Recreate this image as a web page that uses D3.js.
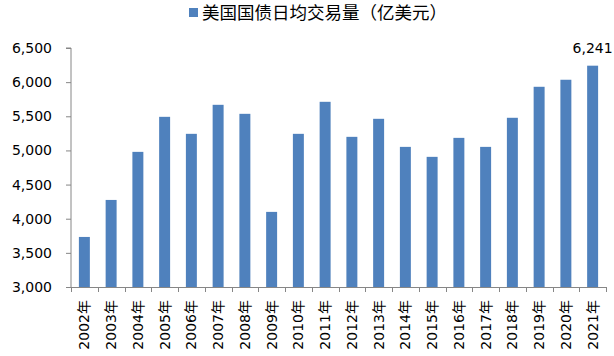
<!DOCTYPE html>
<html><head><meta charset="utf-8">
<script src="https://cdn.jsdelivr.net/npm/d3@7"></script>
<style>
html,body{margin:0;padding:0;background:#fff;}
text{font-family:"DejaVu Sans","Noto Sans CJK SC",sans-serif;fill:#000;}
</style></head>
<body>
<svg id="c" width="614" height="356"></svg>
<script>
const categories = ["2002年","2003年","2004年","2005年","2006年","2007年","2008年","2009年","2010年","2011年",
  "2012年","2013年","2014年","2015年","2016年","2017年","2018年","2019年","2020年","2021年"];
const values = [3733,4275,4979,5492,5243,5668,5536,4100,5243,5712,5199,5463,5052,4906,5184,5052,5478,5932,6035,6241];
const yTicks = [3000,3500,4000,4500,5000,5500,6000,6500];
const seriesName = "美国国债日均交易量（亿美元）";
const labelled = ["2021年"];

const svg = d3.select("#c");
const x0 = 71, x1 = 606, yTop = 48, yBot = 287;
const axisColor = "#868686";
const barColor = "#4F81BD";

const x = d3.scaleBand().domain(categories).range([x0, x1]).paddingInner(0.59).paddingOuter(0.295);
const y = d3.scaleLinear().domain([3000, 6500]).range([yBot, yTop]);
const step = x.step();

// bars
svg.append("g").selectAll("rect").data(categories).join("rect")
  .attr("x", d => x(d)).attr("width", x.bandwidth())
  .attr("y", (d,i) => y(values[i])).attr("height", (d,i) => yBot - y(values[i]))
  .attr("fill", barColor);

// y axis
const yAxis = d3.axisLeft(y).tickValues(yTicks).tickSize(5).tickPadding(14)
  .tickFormat(d3.format(","));
const gy = svg.append("g").attr("transform", `translate(${x0},0)`).call(yAxis);
gy.select(".domain").attr("stroke", axisColor).attr("d", `M-5,${yTop}H0V${yBot}`);
gy.selectAll(".tick line").attr("stroke", axisColor);
gy.selectAll(".tick text").attr("font-size", 14).attr("font-family", "DejaVu Sans").attr("fill","#000");

// x axis line
svg.append("line").attr("x1", x0).attr("x2", x1).attr("y1", yBot + 0.5).attr("y2", yBot + 0.5)
  .attr("stroke", axisColor);
// x ticks at band boundaries
const bounds = d3.range(categories.length + 1).map(i => x0 + i * step);
svg.append("g").selectAll("line").data(bounds).join("line")
  .attr("x1", d => Math.round(d) + 0.5).attr("x2", d => Math.round(d) + 0.5)
  .attr("y1", yBot).attr("y2", yBot + 5).attr("stroke", axisColor);
// x labels
svg.append("g").selectAll("text").data(categories).join("text")
  .attr("transform", d => `translate(${x(d) + x.bandwidth()/2 + 5},${yBot + 13}) rotate(-90)`)
  .attr("text-anchor", "end").attr("font-size", 14)
  .text(d => d);

// data label
categories.forEach((c,i) => {
  if (labelled.includes(c)) {
    svg.append("text").attr("x", x(c) + x.bandwidth()/2).attr("y", y(values[i]) - 13)
      .attr("text-anchor", "middle").attr("font-size", 14)
      .text(d3.format(",")(values[i]));
  }
});

// legend
const lg = svg.append("g").attr("transform", "translate(189,0)");
lg.append("rect").attr("x", 0).attr("y", 8).attr("width", 9).attr("height", 9).attr("fill", barColor);
lg.append("text").attr("x", 13).attr("y", 19).attr("font-size", 17.5)
  .attr("font-family", "'Noto Sans CJK SC',sans-serif").text(seriesName);
</script>
</body></html>
